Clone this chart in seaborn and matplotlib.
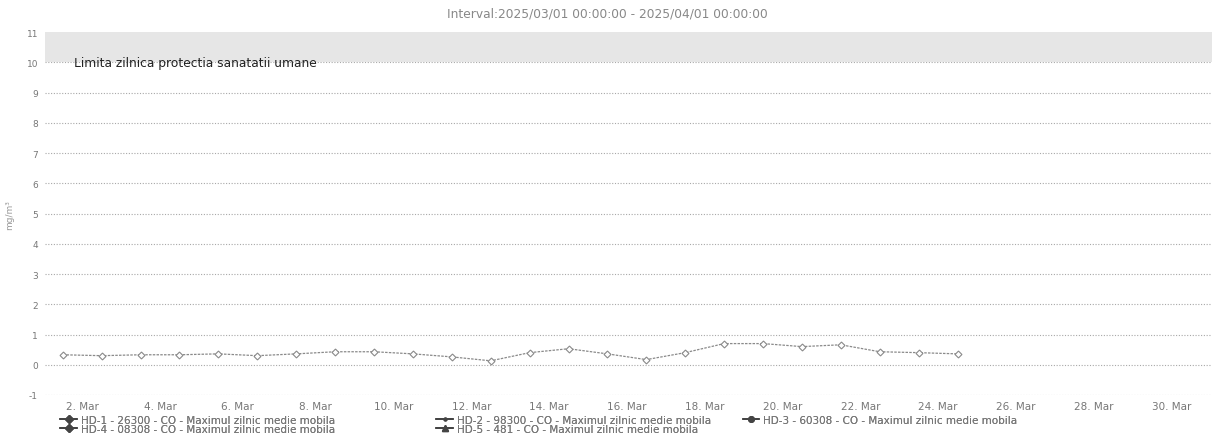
import pandas as pd
import numpy as np
import matplotlib.pyplot as plt
from matplotlib.lines import Line2D
import seaborn as sns

#-----------------------------------------------------------------#

# Data (daily max of moving average, CO)
# Highcharts stamps each daily value at midday
days = pd.date_range('2025-03-01 12:00', '2025-03-24 12:00', freq='D')
hd1_values = [0.33, 0.30, 0.33, 0.33, 0.36, 0.30, 0.36, 0.43, 0.43, 0.36,
              0.26, 0.13, 0.40, 0.53, 0.36, 0.17, 0.40, 0.70, 0.70, 0.60,
              0.66, 0.43, 0.40, 0.36]

series_names = ['HD-1 - 26300 - CO - Maximul zilnic medie mobila',
                'HD-2 - 98300 - CO - Maximul zilnic medie mobila',
                'HD-3 - 60308 - CO - Maximul zilnic medie mobila',
                'HD-4 - 08308 - CO - Maximul zilnic medie mobila',
                'HD-5 - 481 - CO - Maximul zilnic medie mobila']

limit_value = 10
limit_label = 'Limita zilnica protectia sanatatii umane'
title_text = 'Interval:2025/03/01 00:00:00 - 2025/04/01 00:00:00'
y_ticks = list(range(-1, 12))
x_ticks = pd.date_range('2025-03-02', '2025-03-30', freq='2D')

df = pd.DataFrame({'date': days, 'value': hd1_values})

#-----------------------------------------------------------------#

sns.set_style('white')
plt.rcParams['font.family'] = ['DejaVu Sans']

fig = plt.figure(figsize=(12.25, 4.35), dpi=100)
ax = fig.add_axes([0.0367, 0.0897, 0.9527, 0.834])

# Plot band above the daily limit
ax.axhspan(limit_value, 11.2, color='#e6e6e6', lw=0)

# Dotted horizontal gridlines
for t in y_ticks:
    ax.axhline(t, color='#a8a8a8', lw=0.8, ls=(0, (1, 1.5)), zorder=0)

# The only series with data
sns.lineplot(data=df, x='date', y='value', ax=ax, color='#8a8a8a',
             lw=0.9, ls=(0, (2, 1)), marker='D', markersize=3.5,
             markerfacecolor='white', markeredgecolor='#8a8a8a',
             markeredgewidth=0.8)

ax.text(pd.Timestamp('2025-03-01 19:00'), limit_value, limit_label,
        fontsize=8.8, color='#222222', va='center', ha='left')

# Axes limits and ticks
ax.set_xlim(pd.Timestamp('2025-03-01 01:00'), pd.Timestamp('2025-03-31 01:00'))
ax.set_ylim(-1, 11)
ax.set_yticks(y_ticks)
ax.set_yticklabels([str(t) for t in y_ticks], fontsize=6.5, color='#777777')
ax.set_xticks(x_ticks)
ax.set_xticklabels([f'{d.day}. Mar' for d in x_ticks], fontsize=7.5,
                   color='#777777')
ax.tick_params(axis='both', length=0)
ax.tick_params(axis='x', pad=4)
ax.tick_params(axis='y', pad=5)
ax.set_xlabel('')
ax.set_ylabel('mg/m³', fontsize=6.5, color='#999999')
ax.yaxis.set_label_coords(-0.026, 0.5)
for s in ax.spines.values():
    s.set_visible(False)

fig.text(0.496, 0.96, title_text, fontsize=8.8, color='#888888', ha='center')

#-----------------------------------------------------------------#

# Legend: three columns placed by hand, two rows
markers = ['D', '.', 'o', 'D', '^']
handles = [Line2D([], [], color='#444444', lw=1.4, marker=m, markersize=4)
           for m in markers]
columns = [[0, 3], [1, 4], [2]]
col_x = [0.045, 0.352, 0.602]
for idx, x0 in zip(columns, col_x):
    leg = fig.legend([handles[i] for i in idx], [series_names[i] for i in idx],
                     loc='upper left', bbox_to_anchor=(x0, 0.056),
                     frameon=False, fontsize=7.5, handlelength=1.6,
                     handletextpad=0.4, labelspacing=-0.1, borderpad=0.0)
    for t in leg.get_texts():
        t.set_color('#777777')
    fig.add_artist(leg)

plt.savefig('out.png', dpi=100)
plt.close()
